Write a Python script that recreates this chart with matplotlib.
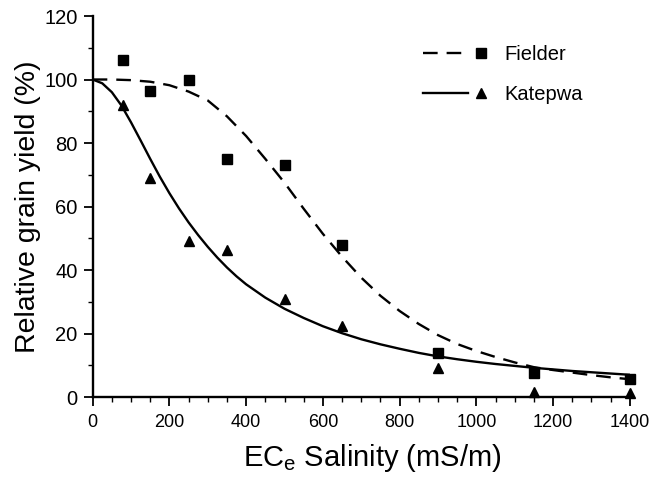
import numpy as np
import matplotlib
matplotlib.use("Agg")
import matplotlib.pyplot as plt
from matplotlib.legend_handler import HandlerLine2D
from matplotlib.lines import Line2D
from matplotlib.ticker import MultipleLocator

plt.rcParams['font.family'] = ['Liberation Sans', 'DejaVu Sans']
plt.rcParams['mathtext.fontset'] = 'custom'
plt.rcParams['mathtext.rm'] = 'Liberation Sans'
plt.rcParams['mathtext.it'] = 'Liberation Sans'
plt.rcParams['mathtext.default'] = 'regular'

# measured points
salinity = [80, 150, 250, 350, 500, 650, 900, 1150, 1400]
fielder_pts = [106.2, 96.5, 100.0, 75.0, 73.2, 47.9, 13.8, 7.5, 5.7]
katepwa_pts = [92.0, 69.0, 49.0, 46.3, 30.8, 22.4, 9.2, 1.7, 1.2]

# fitted curves
fielder_x = list(range(0, 1401, 50))
fielder_fit = [100.0, 100.0, 99.8, 99.3, 98.2, 96.2, 93.4, 88.4, 82.2, 75.0,
               67.5, 59.3, 51.4, 44.2, 37.6, 31.9, 27.1, 23.0, 19.5, 16.7,
               14.5, 12.6, 10.9, 9.4, 8.5, 7.7, 6.9, 6.2, 5.6]
katepwa_x = list(range(0, 400, 25)) + list(range(400, 1401, 50))
katepwa_fit = [100.0, 98.8, 96.0, 91.8, 86.5, 80.8, 75.0, 69.4, 64.2, 59.4,
               55.0, 51.0, 47.3, 43.9, 40.8, 38.0,
               35.5, 31.3, 27.8, 24.9, 22.3, 20.1, 18.2, 16.6, 15.2, 13.9,
               12.8, 11.9, 11.1, 10.4, 9.8, 9.2, 8.7, 8.2, 7.8, 7.4, 7.0]


class LineThenMarker(HandlerLine2D):
    # short line on the left, the marker sits at its right end
    def create_artists(self, legend, orig_handle, xdescent, ydescent,
                       width, height, fontsize, trans):
        y = (height - ydescent) / 2
        line = Line2D([-xdescent, -xdescent + width * 0.71], [y, y])
        self.update_prop(line, orig_handle, legend)
        line.set_marker('None')
        mark = Line2D([-xdescent + width * 0.92], [y])
        self.update_prop(mark, orig_handle, legend)
        mark.set_linestyle('None')
        mark.set_markevery(None)
        line.set_transform(trans)
        mark.set_transform(trans)
        return [line, mark]


fig = plt.figure(figsize=(6.54, 4.82), dpi=100)
ax = fig.add_axes([0.1417, 0.1763, 0.8213, 0.7905])

lw = 1.7
f_line, = ax.plot(fielder_x, fielder_fit, color='black', lw=lw, dashes=(6.2, 3.8),
                  marker='s', markevery=[], ms=6.5)
k_line, = ax.plot(katepwa_x, katepwa_fit, color='black', lw=lw,
                  marker='^', markevery=[], ms=6.5)
ax.plot(salinity, fielder_pts, 's', color='black', ms=6.8, clip_on=False)
ax.plot(salinity, katepwa_pts, '^', color='black', ms=7, clip_on=False)

ax.set_xlim(0, 1400)
ax.set_ylim(0, 120)
ax.xaxis.set_major_locator(MultipleLocator(200))
ax.xaxis.set_minor_locator(MultipleLocator(50))
ax.yaxis.set_major_locator(MultipleLocator(20))
ax.yaxis.set_minor_locator(MultipleLocator(10))
ax.tick_params(which='major', direction='out', length=6.5, width=1.3)
ax.tick_params(which='minor', direction='out', length=3.5, width=1.0)
ax.tick_params(axis='x', which='major', labelsize=13, pad=5.5)
ax.tick_params(axis='y', which='major', labelsize=14.5, pad=4.5)

for s in ['top', 'right']:
    ax.spines[s].set_visible(False)
for s in ['left', 'bottom']:
    ax.spines[s].set_linewidth(1.7)

ax.set_xlabel('EC$_e$ Salinity (mS/m)', fontsize=21)
ax.xaxis.set_label_coords(0.52, -0.118, transform=ax.transAxes)
ax.xaxis.label.set_va('top')
ax.set_ylabel('Relative grain yield (%)', fontsize=20.5, labelpad=2)

leg = ax.legend([f_line, k_line], ['Fielder', 'Katepwa'],
                handler_map={f_line: LineThenMarker(), k_line: LineThenMarker()},
                loc='upper left', bbox_to_anchor=(0.582, 0.972), frameon=False,
                fontsize=14.5, handlelength=3.1, handletextpad=0.9,
                labelspacing=1.05, borderpad=0.4)

fig.savefig('out.png', dpi=100)
